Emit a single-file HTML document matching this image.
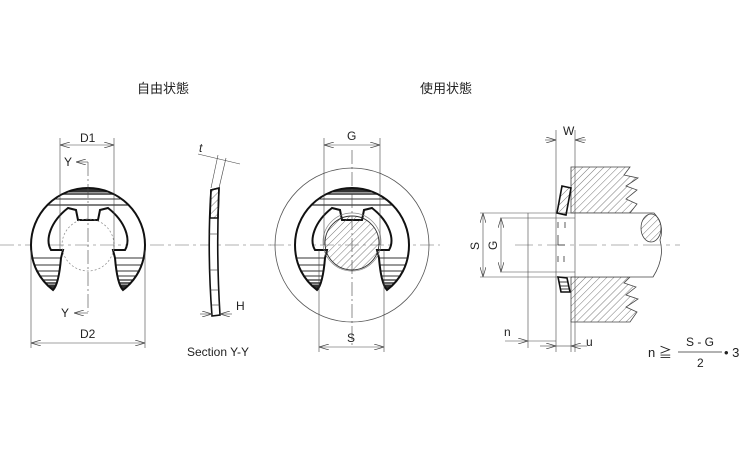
<!DOCTYPE html>
<html><head><meta charset="utf-8"><style>
html,body{margin:0;padding:0;background:#fff;}
svg{display:block;}
text{font-family:"Liberation Sans","Noto Sans CJK JP",sans-serif;fill:#222;}
</style></head><body>
<svg width="750" height="450" viewBox="0 0 750 450" xmlns="http://www.w3.org/2000/svg">
<defs>
<pattern id="h" patternUnits="userSpaceOnUse" width="5" height="5" patternTransform="rotate(45)">
<line x1="0" y1="0" x2="0" y2="5" stroke="#555" stroke-width="0.8"/></pattern>
<marker id="a" markerWidth="10" markerHeight="6" refX="10" refY="3" orient="auto-start-reverse" markerUnits="userSpaceOnUse">
<path d="M0,0 L10,3 L0,6" fill="none" stroke="#444" stroke-width="0.7"/></marker>
<g id="ering">
<clipPath id="rc"><path d="M53,290 C40,280 31,265 31,245 A57 57 0 1 1 145,245 C145,265 136,280 123,290 C118,285 116,270 115,258 L113,250 L125,250 C131,240 126,222 108,208 L100,210 L98,220 L78,220 L76,210 L68,208 C50,222 45,240 51,250 L63,250 L61,258 C60,270 58,285 53,290 Z"/></clipPath>
<path d="M53,290 C40,280 31,265 31,245 A57 57 0 1 1 145,245 C145,265 136,280 123,290 C118,285 116,270 115,258 L113,250 L125,250 C131,240 126,222 108,208 L100,210 L98,220 L78,220 L76,210 L68,208 C50,222 45,240 51,250 L63,250 L61,258 C60,270 58,285 53,290 Z" fill="#fff"/>
<g clip-path="url(#rc)" stroke="#333">
<rect x="30" y="186" width="116" height="6" fill="#333"/>
<line x1="30" y1="194" x2="146" y2="194" stroke-width="1.5"/>
<line x1="30" y1="199" x2="146" y2="199" stroke-width="1"/>
<line x1="30" y1="205" x2="146" y2="205" stroke-width="1.2"/>
<line x1="30" y1="258" x2="146" y2="258" stroke-width="1"/>
<line x1="30" y1="265" x2="146" y2="265" stroke-width="1"/>
<line x1="30" y1="271" x2="146" y2="271" stroke-width="1"/>
<line x1="30" y1="276" x2="146" y2="276" stroke-width="1"/>
<line x1="30" y1="280" x2="146" y2="280" stroke-width="1.2"/>
<line x1="30" y1="283" x2="146" y2="283" stroke-width="1.5"/>
<rect x="30" y="285" width="116" height="6" fill="#333"/>
</g>
<path d="M53,290 C40,280 31,265 31,245 A57 57 0 1 1 145,245 C145,265 136,280 123,290 C118,285 116,270 115,258 L113,250 L125,250 C131,240 126,222 108,208 L100,210 L98,220 L78,220 L76,210 L68,208 C50,222 45,240 51,250 L63,250 L61,258 C60,270 58,285 53,290 Z" fill="none" stroke="#111" stroke-width="2"/>
</g>
</defs>

<text x="137" y="93" font-size="13">自由状態</text>
<text x="420" y="93" font-size="13">使用状態</text>

<!-- LEFT VIEW -->
<line x1="0" y1="245" x2="275" y2="245" stroke="#666" stroke-width="0.6" stroke-dasharray="14,4,3,4"/>
<use href="#ering"/>
<circle cx="88" cy="245" r="26" fill="none" stroke="#888" stroke-width="0.7" stroke-dasharray="2,2"/>
<line x1="88" y1="162" x2="88" y2="312" stroke="#444" stroke-width="0.6" stroke-dasharray="14,3,2,3"/>
<line x1="60" y1="138" x2="60" y2="250" stroke="#444" stroke-width="0.6"/>
<line x1="114" y1="138" x2="114" y2="250" stroke="#444" stroke-width="0.6"/>
<line x1="60" y1="145" x2="114" y2="145" stroke="#444" stroke-width="0.6" marker-start="url(#a)" marker-end="url(#a)"/>
<text x="80" y="142" font-size="12">D1</text>
<line x1="88" y1="162" x2="76" y2="162" stroke="#444" stroke-width="0.6" marker-end="url(#a)"/>
<text x="64" y="166" font-size="12">Y</text>
<line x1="88" y1="313" x2="74" y2="313" stroke="#444" stroke-width="0.6" marker-end="url(#a)"/>
<text x="61" y="317" font-size="12">Y</text>
<line x1="31" y1="250" x2="31" y2="348" stroke="#444" stroke-width="0.6"/>
<line x1="145" y1="250" x2="145" y2="348" stroke="#444" stroke-width="0.6"/>
<line x1="31" y1="343" x2="145" y2="343" stroke="#444" stroke-width="0.6" marker-start="url(#a)" marker-end="url(#a)"/>
<text x="80" y="338" font-size="12">D2</text>

<!-- SECTION -->
<path d="M211,190 L219,188 Q216,250 220,315 L212,316 Q207,250 211,190 Z" fill="#fff" stroke="#111" stroke-width="1.6"/>
<path d="M211,190 L219,188 L218,218 L210,218 Z" fill="url(#h)" stroke="#111" stroke-width="1.6"/>
<line x1="209" y1="234" x2="218" y2="234" stroke="#333" stroke-width="0.6"/>
<line x1="209" y1="270" x2="218" y2="270" stroke="#333" stroke-width="0.6"/>
<line x1="210" y1="290" x2="219" y2="290" stroke="#333" stroke-width="0.6"/>
<line x1="211" y1="305" x2="220" y2="305" stroke="#333" stroke-width="0.6"/>
<line x1="198" y1="154" x2="240" y2="164" stroke="#444" stroke-width="0.6"/>
<line x1="211" y1="188" x2="218" y2="155" stroke="#444" stroke-width="0.6"/>
<line x1="219" y1="188" x2="226" y2="158" stroke="#444" stroke-width="0.6"/>
<text x="199" y="152" font-size="12" font-style="italic">t</text>
<line x1="200" y1="314" x2="212" y2="314" stroke="#444" stroke-width="0.6" marker-end="url(#a)"/>
<line x1="232" y1="314" x2="220" y2="314" stroke="#444" stroke-width="0.6" marker-end="url(#a)"/>
<text x="236" y="310" font-size="12">H</text>
<text x="187" y="356" font-size="12">Section Y-Y</text>

<!-- MIDDLE -->
<line x1="270" y1="245" x2="440" y2="245" stroke="#666" stroke-width="0.6" stroke-dasharray="14,4,3,4"/>
<circle cx="352" cy="245" r="77" fill="none" stroke="#555" stroke-width="0.8"/>
<use href="#ering" x="264"/>
<circle cx="352" cy="242" r="29" fill="none" stroke="#888" stroke-width="0.7"/>
<circle cx="352" cy="243" r="27" fill="url(#h)" stroke="#333" stroke-width="0.9"/>
<line x1="352" y1="150" x2="352" y2="345" stroke="#444" stroke-width="0.6" stroke-dasharray="14,3,2,3"/>
<line x1="324" y1="138" x2="324" y2="245" stroke="#444" stroke-width="0.6"/>
<line x1="380" y1="138" x2="380" y2="245" stroke="#444" stroke-width="0.6"/>
<line x1="324" y1="145" x2="380" y2="145" stroke="#444" stroke-width="0.6" marker-start="url(#a)" marker-end="url(#a)"/>
<text x="347" y="140" font-size="12">G</text>
<line x1="319" y1="250" x2="319" y2="352" stroke="#444" stroke-width="0.6"/>
<line x1="384" y1="250" x2="384" y2="352" stroke="#444" stroke-width="0.6"/>
<line x1="319" y1="347" x2="384" y2="347" stroke="#444" stroke-width="0.6" marker-start="url(#a)" marker-end="url(#a)"/>
<text x="347" y="342" font-size="12">S</text>

<!-- RIGHT -->
<path d="M571,167 L630,167 L624,175 L638,178 L626,186 L637,190 L626,199 L637,204 L630,213 L575,213 L571,213 Z" fill="url(#h)" stroke="#444" stroke-width="0.8"/>
<path d="M571,277 L630,277 L624,283 L636,287 L626,295 L638,299 L626,307 L637,312 L630,322 L571,322 Z" fill="url(#h)" stroke="#444" stroke-width="0.8"/>
<path d="M575,213 L654,213 Q665,225 660,240 Q665,258 653,277 L575,277" fill="#fff" stroke="#444" stroke-width="0.8"/>
<ellipse cx="651" cy="228" rx="10" ry="14" fill="url(#h)" stroke="#444" stroke-width="0.8"/>
<line x1="515" y1="245" x2="680" y2="245" stroke="#666" stroke-width="0.6" stroke-dasharray="18,5,4,5"/>
<line x1="556" y1="130" x2="556" y2="352" stroke="#444" stroke-width="0.6"/>
<line x1="575" y1="130" x2="575" y2="352" stroke="#444" stroke-width="0.6"/>
<line x1="545" y1="140" x2="556" y2="140" stroke="#444" stroke-width="0.6" marker-end="url(#a)"/>
<line x1="586" y1="140" x2="575" y2="140" stroke="#444" stroke-width="0.6" marker-end="url(#a)"/>
<text x="563" y="135" font-size="12">W</text>
<line x1="480" y1="213" x2="575" y2="213" stroke="#444" stroke-width="0.6"/>
<line x1="480" y1="277" x2="575" y2="277" stroke="#444" stroke-width="0.6"/>
<line x1="500" y1="218" x2="575" y2="218" stroke="#444" stroke-width="0.6"/>
<line x1="500" y1="272" x2="575" y2="272" stroke="#444" stroke-width="0.6"/>
<line x1="483" y1="213" x2="483" y2="277" stroke="#444" stroke-width="0.6" marker-start="url(#a)" marker-end="url(#a)"/>
<line x1="501" y1="218" x2="501" y2="272" stroke="#444" stroke-width="0.6" marker-start="url(#a)" marker-end="url(#a)"/>
<text x="0" y="0" font-size="12" transform="translate(479,250) rotate(-90)">S</text>
<text x="0" y="0" font-size="12" transform="translate(497,250) rotate(-90)">G</text>
<line x1="528" y1="213" x2="528" y2="348" stroke="#444" stroke-width="0.6"/>
<path d="M562,186 L571,188 L566,215 L557,213 Z" fill="url(#h)" stroke="#111" stroke-width="1.6"/>
<path d="M558,277 L567,278 L570,292 L561,292 Z" fill="none" stroke="#111" stroke-width="1.6"/>
<line x1="559" y1="282" x2="568" y2="282" stroke="#111" stroke-width="0.8"/>
<line x1="560" y1="286" x2="569" y2="286" stroke="#111" stroke-width="0.8"/>
<line x1="560" y1="289" x2="569" y2="289" stroke="#111" stroke-width="0.8"/>
<line x1="558" y1="222" x2="558" y2="228" stroke="#333" stroke-width="0.8"/>
<line x1="565" y1="222" x2="565" y2="228" stroke="#333" stroke-width="0.8"/>
<line x1="558" y1="235" x2="558" y2="245" stroke="#333" stroke-width="0.8"/>
<line x1="558" y1="245" x2="565" y2="245" stroke="#333" stroke-width="0.8"/>
<line x1="558" y1="256" x2="558" y2="262" stroke="#333" stroke-width="0.8"/>
<line x1="564" y1="256" x2="564" y2="262" stroke="#333" stroke-width="0.8"/>
<line x1="505" y1="341" x2="528" y2="341" stroke="#444" stroke-width="0.6" marker-end="url(#a)"/>
<line x1="528" y1="341" x2="556" y2="341" stroke="#444" stroke-width="0.6"/>
<text x="504" y="336" font-size="12">n</text>
<line x1="540" y1="346" x2="556" y2="346" stroke="#444" stroke-width="0.6" marker-end="url(#a)"/>
<line x1="556" y1="346" x2="571" y2="346" stroke="#444" stroke-width="0.6"/>
<line x1="587" y1="346" x2="571" y2="346" stroke="#444" stroke-width="0.6" marker-end="url(#a)"/>
<line x1="571" y1="320" x2="571" y2="352" stroke="#444" stroke-width="0.6"/>
<text x="586" y="346" font-size="12">u</text>
<text x="648" y="357" font-size="13">n ≧</text>
<line x1="678" y1="352" x2="722" y2="352" stroke="#333" stroke-width="0.7"/>
<text x="686" y="346" font-size="12">S - G</text>
<text x="697" y="367" font-size="12">2</text>
<text x="724" y="357" font-size="13">• 3</text>
</svg>
</body></html>
